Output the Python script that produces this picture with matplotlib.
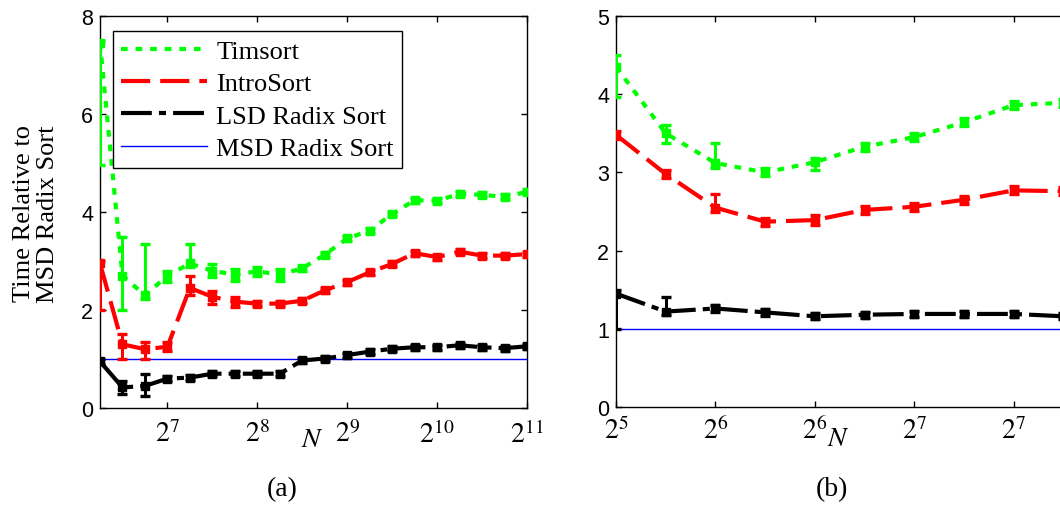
import matplotlib
matplotlib.use('Agg')
import matplotlib.pyplot as plt
from matplotlib.lines import Line2D

plt.rcParams['mathtext.fontset'] = 'stix'
plt.rcParams['font.family'] = ['Liberation Serif', 'DejaVu Serif']

# ---------------- data ----------------
series = ['Timsort', 'IntroSort', 'LSD Radix Sort', 'MSD Radix Sort']

# panel (a)
N_a = [76.1, 90.5, 107.6, 128, 152.2, 181.0, 215.3, 256, 304.4, 362.0, 430.5, 512,
       608.9, 724.1, 861.1, 1024, 1217.7, 1448.2, 1722.2, 2048]
tim_a = [7.45, 2.70, 2.30, 2.70, 2.95, 2.80, 2.72, 2.79, 2.72, 2.85, 3.13, 3.46,
         3.62, 3.96, 4.24, 4.23, 4.37, 4.35, 4.31, 4.41]
tim_a_lo = [4.95, 1.99, 2.23, 2.57, 2.87, 2.67, 2.60, 2.70, 2.60, 2.80, 3.08, 3.41,
            3.57, 3.91, 4.19, 4.18, 4.32, 4.30, 4.26, 4.36]
tim_a_hi = [7.50, 3.48, 3.35, 2.80, 3.35, 2.94, 2.84, 2.87, 2.84, 2.90, 3.18, 3.51,
            3.67, 4.01, 4.29, 4.28, 4.42, 4.40, 4.36, 4.46]
intro_a = [2.95, 1.30, 1.20, 1.25, 2.45, 2.27, 2.17, 2.13, 2.13, 2.19, 2.40, 2.57,
           2.77, 2.94, 3.16, 3.08, 3.19, 3.11, 3.11, 3.14]
intro_a_lo = [2.00, 1.00, 1.00, 1.17, 2.30, 2.12, 2.06, 2.08, 2.08, 2.14, 2.35, 2.52,
              2.72, 2.89, 3.11, 3.03, 3.14, 3.06, 3.06, 3.09]
intro_a_hi = [3.00, 1.51, 1.34, 1.34, 2.70, 2.39, 2.27, 2.18, 2.18, 2.24, 2.45, 2.62,
              2.82, 2.99, 3.21, 3.13, 3.24, 3.16, 3.16, 3.19]
lsd_a = [0.95, 0.42, 0.45, 0.60, 0.62, 0.70, 0.70, 0.70, 0.70, 0.97, 1.01, 1.08,
         1.15, 1.21, 1.24, 1.24, 1.28, 1.24, 1.22, 1.26]
lsd_a_lo = [0.90, 0.29, 0.24, 0.55, 0.57, 0.65, 0.65, 0.65, 0.65, 0.92, 0.96, 1.03,
            1.10, 1.16, 1.19, 1.19, 1.23, 1.19, 1.17, 1.21]
lsd_a_hi = [1.00, 0.55, 0.69, 0.65, 0.67, 0.75, 0.75, 0.75, 0.75, 1.02, 1.06, 1.13,
            1.20, 1.26, 1.29, 1.29, 1.33, 1.29, 1.27, 1.31]
msd_a = [1.0] * len(N_a)
ticks_a = [128, 256, 512, 1024, 2048]
ticklabels_a = ['$2^{7}$', '$2^{8}$', '$2^{9}$', '$2^{10}$', '$2^{11}$']
yticks_a = [0, 2, 4, 6, 8]

# panel (b)
N_b = [32, 38.05, 45.25, 53.82, 64, 76.11, 90.51, 107.6, 128, 152.2]
tim_b = [4.35, 3.50, 3.12, 3.00, 3.13, 3.33, 3.45, 3.64, 3.86, 3.89]
tim_b_lo = [3.96, 3.37, 3.05, 2.95, 3.03, 3.28, 3.40, 3.59, 3.81, 3.84]
tim_b_hi = [4.50, 3.61, 3.37, 3.05, 3.18, 3.38, 3.50, 3.69, 3.91, 3.94]
intro_b = [3.48, 2.98, 2.55, 2.37, 2.39, 2.52, 2.56, 2.65, 2.77, 2.76]
intro_b_lo = [3.43, 2.93, 2.49, 2.32, 2.33, 2.47, 2.51, 2.60, 2.72, 2.71]
intro_b_hi = [3.53, 3.03, 2.73, 2.42, 2.45, 2.57, 2.61, 2.70, 2.82, 2.81]
lsd_b = [1.45, 1.22, 1.26, 1.21, 1.16, 1.18, 1.19, 1.19, 1.19, 1.16]
lsd_b_lo = [1.00, 1.18, 1.22, 1.17, 1.12, 1.14, 1.15, 1.15, 1.15, 1.12]
lsd_b_hi = [1.50, 1.41, 1.30, 1.25, 1.20, 1.22, 1.23, 1.23, 1.23, 1.20]
msd_b = [1.0] * len(N_b)
ticks_b = [32, 45.25, 64, 90.51, 128]
ticklabels_b = ['$2^{5}$', '$2^{6}$', '$2^{6}$', '$2^{7}$', '$2^{7}$']
yticks_b = [0, 1, 2, 3, 4, 5]

# ---------------- styles ----------------
colors = ['#00ff00', '#ff0000', '#000000', '#0000ff']
styles = [(0, (1.6, 1.9)), (0, (7.0, 2.4)), (0, (7.4, 1.7, 1.7, 1.7)), '-']
lws = [3.0, 3.0, 3.0, 1.0]

fig = plt.figure(figsize=(10.6, 5.06), dpi=100)
ax_a = fig.add_axes([100 / 1060, 1 - 409 / 506, 427 / 1060, 392 / 506])
ax_b = fig.add_axes([616 / 1060, 1 - 408 / 506, 497 / 1060, 391 / 506])


def draw(ax, N, ys, los, his, msd):
    for i, (y, lo, hi) in enumerate(zip(ys, los, his)):
        err = [[m - l for m, l in zip(y, lo)], [h - m for m, h in zip(y, hi)]]
        ax.errorbar(N, y, yerr=err, fmt='none', ecolor=colors[i], elinewidth=2.2,
                    capsize=3.4, capthick=2.4, zorder=3)
        ax.plot(N, y, color=colors[i], ls=styles[i], lw=lws[i], zorder=3)
        ax.plot(N, y, 's', color=colors[i], ms=5.3, zorder=4)
    ax.plot(N, msd, color=colors[3], ls='-', lw=lws[3], zorder=2)


draw(ax_a, N_a, [tim_a, intro_a, lsd_a], [tim_a_lo, intro_a_lo, lsd_a_lo],
     [tim_a_hi, intro_a_hi, lsd_a_hi], msd_a)
draw(ax_b, N_b, [tim_b, intro_b, lsd_b], [tim_b_lo, intro_b_lo, lsd_b_lo],
     [tim_b_hi, intro_b_hi, lsd_b_hi], msd_b)

for ax, N, ticks, labels, yt, xmax in [
        (ax_a, N_a, ticks_a, ticklabels_a, yticks_a, 2048),
        (ax_b, N_b, ticks_b, ticklabels_b, yticks_b, 181.02)]:
    ax.set_xscale('log', base=2)
    ax.set_xlim(N[0], xmax)
    ax.set_ylim(yt[0], yt[-1])
    ax.set_xticks(ticks)
    ax.set_xticklabels(labels)
    ax.minorticks_off()
    ax.set_yticks(yt)
    ax.set_yticklabels([str(v) for v in yt], family='Liberation Sans', fontsize=15.5)
    ax.tick_params(axis='both', direction='in', length=4.5, width=1.0,
                   top=True, right=True)
    ax.tick_params(axis='x', labelsize=20, pad=9)
    ax.tick_params(axis='y', pad=5)
    for s in ax.spines.values():
        s.set_linewidth(1.0)

ax_b.tick_params(axis='x', pad=7)

handles = [Line2D([], [], color=colors[i], ls=styles[i], lw=lws[i]) for i in range(4)]
leg = ax_a.legend(handles, series, loc='upper left', bbox_to_anchor=(0.030, 0.961),
                  borderaxespad=0, fontsize=19, frameon=True, fancybox=False,
                  edgecolor='black', framealpha=1, handlelength=3.25,
                  handletextpad=0.35, labelspacing=0.33, borderpad=0.32)
leg.get_frame().set_linewidth(1.0)

fig.text(36 / 1060, 1 - 214 / 506, 'Time Relative to\nMSD Radix Sort', rotation=90,
         ha='center', va='center', fontsize=19, multialignment='center',
         linespacing=1.1)
fig.text(312 / 1060, 1 - 441 / 506, '$N$', ha='center', va='center', fontsize=20)
fig.text(838 / 1060, 1 - 440 / 506, '$N$', ha='center', va='center', fontsize=20)
fig.text(282 / 1060, 1 - 490 / 506, '(a)', ha='center', va='center', fontsize=20)
fig.text(832 / 1060, 1 - 490 / 506, '(b)', ha='center', va='center', fontsize=20)

fig.savefig('out.png', dpi=100)
